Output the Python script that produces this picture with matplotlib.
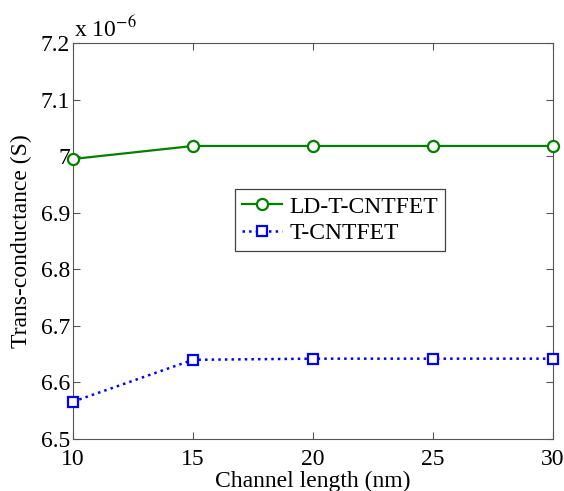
import matplotlib
matplotlib.use("Agg")
import matplotlib.pyplot as plt

# channel length (nm) and trans-conductance (x 1e-6 S)
channel_length = [10, 15, 20, 25, 30]
gm_ld_t_cntfet = [6.995, 7.018, 7.018, 7.018, 7.018]
gm_t_cntfet = [6.566, 6.640, 6.642, 6.642, 6.642]

plt.rcParams["font.family"] = ["Liberation Serif", "DejaVu Serif"]
plt.rcParams["mathtext.fontset"] = "stix"

fig = plt.figure(figsize=(5.64, 4.91), dpi=100)
ax = fig.add_axes([0.1294, 0.1059, 0.8511, 0.8065])

ax.plot(channel_length, gm_ld_t_cntfet, "-o", color="#008000", lw=1.6,
        ms=8, mfc="white", mec="#008000", mew=1.6, label="LD-T-CNTFET", clip_on=False, zorder=3)
ax.plot(channel_length, gm_t_cntfet, ":s", color="blue", lw=1.8,
        ms=7, mfc="white", mec="blue", mew=1.6, label="T-CNTFET", clip_on=False, zorder=3)

ax.set_xlim(10, 30)
ax.set_ylim(6.5, 7.2)
ax.set_xticks([10, 15, 20, 25, 30])
ax.set_yticks([6.5, 6.6, 6.7, 6.8, 6.9, 7.0, 7.1, 7.2])
ax.set_yticklabels(["6.5", "6.6", "6.7", "6.8", "6.9", "7", "7.1", "7.2"])
ax.tick_params(direction="in", top=True, right=True, labelsize=17, length=5, color="#555555")
ax.tick_params(axis="x", pad=7)
ax.tick_params(axis="y", pad=2)
for s in ax.spines.values():
    s.set_color("#555555")

ax.set_xlabel("Channel length (nm)", fontsize=17, labelpad=1)
ax.set_ylabel("Trans-conductance (S)", fontsize=17, labelpad=6)
ax.text(0.003, 1.003, r"x 10$^{-6}$", transform=ax.transAxes, fontsize=17, ha="left", va="bottom")

leg = ax.legend(loc="center", bbox_to_anchor=(0.556, 0.553), fontsize=17, fancybox=False,
                edgecolor="#444444", framealpha=1, handlelength=1.7, handletextpad=0.3,
                borderpad=0.3, labelspacing=0.2)
leg.get_frame().set_linewidth(0.9)

fig.savefig("out.png", dpi=100)
plt.close(fig)
